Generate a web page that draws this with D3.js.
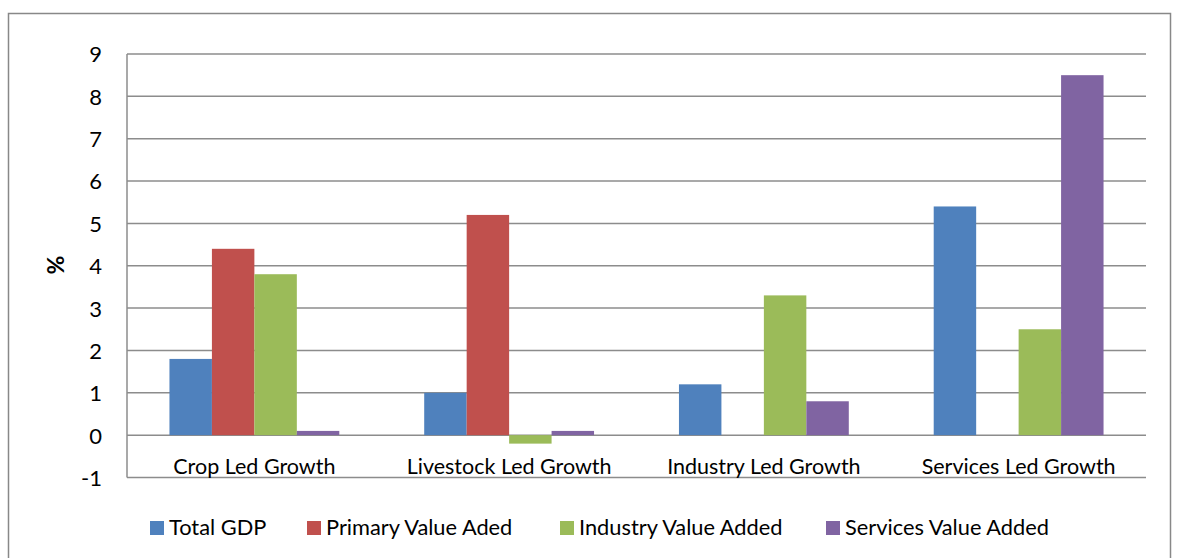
<!DOCTYPE html>
<html><head><meta charset="utf-8">
<script src="https://cdn.jsdelivr.net/npm/d3@7"></script>
<style>body{margin:0;background:#fff}svg{display:block}</style>
</head><body>
<script>
const categories = ["Crop Led Growth","Livestock Led Growth","Industry Led Growth","Services Led Growth"];
const seriesNames = ["Total GDP","Primary Value Aded","Industry Value Added","Services Value Added"];
const totalGDP = [1.8, 1.0, 1.2, 5.4];
const primaryVA = [4.4, 5.2, 0, 0];
const industryVA = [3.8, -0.2, 3.3, 2.5];
const servicesVA = [0.1, 0.1, 0.8, 8.5];
const yTicks = [-1,0,1,2,3,4,5,6,7,8,9];
const colors = ["#4F81BD","#C0504D","#9BBB59","#8064A2"];
const seriesValues = [totalGDP, primaryVA, industryVA, servicesVA];

(function(){
const W=1180,H=558;
const svg=d3.select("body").append("svg").attr("width",W).attr("height",H);
const font="Lato, 'Open Sans', sans-serif";
svg.append("rect").attr("x",8.5).attr("y",13.5).attr("width",1162).attr("height",560)
  .attr("fill","none").attr("stroke","#888").attr("stroke-width",1.5);

const pl=127,pr=1146,pt=54,pb=477.5;
const y=d3.scaleLinear().domain([-1,9]).range([pb,pt]);
const x0=d3.scaleBand().domain(categories).range([pl,pr]).paddingInner(1/3).paddingOuter(1/6);
const x1=d3.scaleBand().domain(seriesNames).range([0,x0.bandwidth()]);

const g=svg.append("g");
g.selectAll("line.grid").data(yTicks).join("line").attr("class","grid")
  .attr("x1",pl).attr("x2",pr).attr("y1",d=>y(d)).attr("y2",d=>y(d))
  .attr("stroke","#8c8c8c").attr("stroke-width",1.5);
g.append("line").attr("x1",pl).attr("x2",pl).attr("y1",pt).attr("y2",pb)
  .attr("stroke","#8c8c8c").attr("stroke-width",1.5);

const yAxis=d3.axisLeft(y).tickValues(yTicks).tickSize(0).tickPadding(0).tickFormat(d=>String(d));
const ya=svg.append("g").attr("transform",`translate(102,0)`).call(yAxis);
ya.select(".domain").remove();
ya.selectAll("text").attr("font-family",font).attr("font-size",22).attr("fill","#000").attr("dy","0.36em");

const groups=svg.append("g").selectAll("g").data(categories).join("g")
  .attr("transform",d=>`translate(${x0(d)},0)`);
groups.selectAll("rect").data((c,i)=>seriesNames.map((s,j)=>({s,j,v:seriesValues[j][i]})))
  .join("rect")
  .attr("x",d=>x1(d.s)).attr("width",x1.bandwidth())
  .attr("y",d=>y(Math.max(0,d.v))).attr("height",d=>Math.abs(y(d.v)-y(0)))
  .attr("fill",d=>colors[d.j]);

const xAxis=d3.axisBottom(x0).tickSize(0).tickPadding(0);
const xa=svg.append("g").attr("transform",`translate(0,${y(0)})`).call(xAxis);
xa.select(".domain").remove();
xa.selectAll("text").attr("font-family",font).attr("font-size",21.5).attr("fill","#000").attr("y",39).attr("dy","0");

svg.append("text").attr("transform","translate(64,265) rotate(-90)").attr("text-anchor","middle")
  .attr("font-family",font).attr("font-size",23).attr("font-weight","bold").text("%");

const legX=[150,307,560,826];
const leg=svg.append("g").selectAll("g").data(seriesNames).join("g")
  .attr("transform",(d,i)=>`translate(${legX[i]},521)`);
leg.append("rect").attr("width",14).attr("height",14).attr("fill",(d,i)=>colors[i]);
leg.append("text").attr("x",19).attr("y",14).attr("font-family",font).attr("font-size",21.8).attr("fill","#000").text(d=>d);
})();
</script>
</body></html>
